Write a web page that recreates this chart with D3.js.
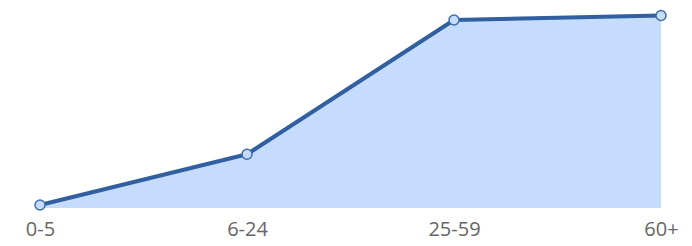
<!DOCTYPE html>
<html>
<head>
<meta charset="utf-8">
<script src="https://cdn.jsdelivr.net/npm/d3@7"></script>
<style>
  body { margin: 0; background: #fff; }
  .axis text { font-family: 'Open Sans', sans-serif; font-size: 20px; fill: #666; }
</style>
</head>
<body>
<script>
let categories = ['0-5', '6-24', '25-59', '60+']
let values = [1, 18, 63, 64.5]

let width = 692
let height = 246

let x = d3.scalePoint()
  .domain(categories)
  .range([40, 661])

let y = d3.scaleLinear()
  .domain([0, 65])
  .range([208, 14])

let data = categories.map((c, i) => ({ key: c, value: values[i] }))

let svg = d3.select('body').append('svg')
  .attr('width', width)
  .attr('height', height)

let area = d3.area()
  .x((d) => x(d.key))
  .y0(y(0))
  .y1((d) => y(d.value))

let line = d3.line()
  .x((d) => x(d.key))
  .y((d) => y(d.value))

svg.append('path')
  .attr('d', area(data))
  .attr('fill', '#c5dcfc')

svg.append('path')
  .attr('d', line(data))
  .attr('fill', 'none')
  .attr('stroke', '#325f9f')
  .attr('stroke-width', 4)
  .attr('stroke-linejoin', 'round')

svg.selectAll('circle.pt')
  .data(data)
  .enter().append('circle')
    .attr('class', 'pt')
    .attr('cx', (d) => x(d.key))
    .attr('cy', (d) => y(d.value))
    .attr('r', 5)
    .attr('fill', '#c5dcfc')
    .attr('stroke', '#3e6eae')
    .attr('stroke-width', 1.5)

let axis = svg.append('g')
  .attr('class', 'axis')
  .attr('transform', 'translate(0,' + y(0) + ')')
  .call(d3.axisBottom(x).tickSize(0).tickPadding(14))

axis.select('.domain').remove()
axis.selectAll('text').attr('dy', '0.71em')
</script>
</body>
</html>
